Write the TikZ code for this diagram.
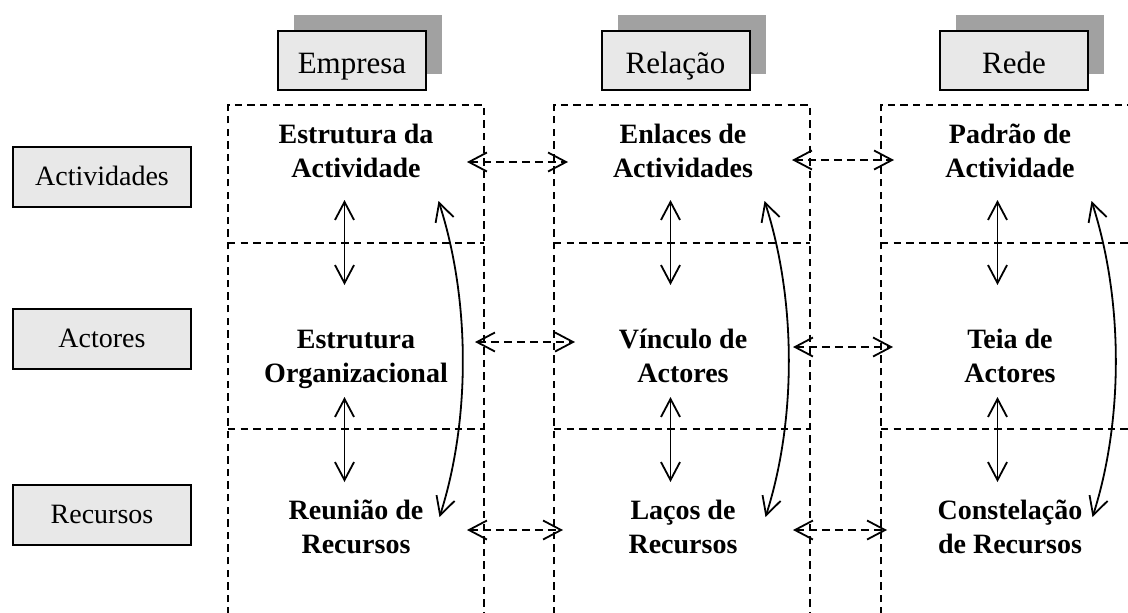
\documentclass[tikz,border=0pt]{standalone}
\usepackage{fontspec}
\setmainfont{Liberation Serif}
\usetikzlibrary{arrows.meta,shadows}

\begin{document}
\begin{tikzpicture}[x=0.5pt,y=-0.5pt,
    cabeca/.style={draw,line width=1pt,fill=black!9,minimum width=74pt,minimum height=29.5pt,inner sep=0pt,
      text height=14pt,text depth=1.5pt,font=\fontsize{15.5}{18}\selectfont,
      drop shadow={shadow xshift=8pt,shadow yshift=8pt,opacity=1,fill=black!37}},
    eixo/.style={draw,line width=1pt,fill=black!9,minimum width=89pt,minimum height=30pt,inner sep=0pt,
      text height=10pt,text depth=2pt,font=\fontsize{14}{17}\selectfont},
    celula/.style={align=center,anchor=base,inner sep=0pt,font=\fontsize{14}{17}\selectfont\bfseries},
    grade/.style={line width=0.9pt,dash pattern=on 3.7pt off 2.6pt},
    liga/.style={line width=0.9pt,{Straight Barb[length=9pt,width=9.5pt]}-{Straight Barb[length=9pt,width=9.5pt]}},
    ligatr/.style={liga,dash pattern=on 4pt off 2.5pt}]
  \path[use as bounding box] (0,0) rectangle (1128,612) ;
  \clip (0,0) rectangle (1128,612) ;
  % grelha tracejada
  \foreach \c/\x in {a/228,b/554,c/881} {
    \draw[grade] (\x,640) -- (\x,105) -- (\x+256,105) -- (\x+256,640) ;
    \draw[grade] (\x,243) -- (\x+256,243) ;
    \draw[grade] (\x,429) -- (\x+256,429) ;
    \coordinate (\c-v1) at (\x+116.5,200) ;
    \coordinate (\c-v2) at (\x+116.5,285) ;
    \coordinate (\c-v3) at (\x+116.5,397) ;
    \coordinate (\c-v4) at (\x+116.5,482) ;
    \coordinate (\c-ct) at (\x+210.5,201) ;
    \coordinate (\c-cb) at (\x+211.5,517) ;
  }
  % cabecalhos
  \node[cabeca] (empresa) at (352,60.5) {Empresa} ;
  \node[cabeca] (relacao) at (675.5,60.5) {Relação} ;
  \node[cabeca] (rede) at (1014,60.5) {Rede} ;
  \node[eixo] (actividades) at (102,177) {Actividades} ;
  \node[eixo] (actores) at (102,339) {Actores} ;
  \node[eixo] (recursos) at (102,515) {Recursos} ;
  % celulas
  \node[celula] (a1) at (356,177) {Estrutura da\\Actividade} ;
  \node[celula] (a2) at (356,382) {Estrutura\\Organizacional} ;
  \node[celula] (a3) at (356,553) {Reunião de\\Recursos} ;
  \node[celula] (b1) at (683,177) {Enlaces de\\Actividades} ;
  \node[celula] (b2) at (683,382) {Vínculo de\\Actores} ;
  \node[celula] (b3) at (683,553) {Laços de\\Recursos} ;
  \node[celula] (c1) at (1010,177) {Padrão de\\Actividade} ;
  \node[celula] (c2) at (1010,382) {Teia de\\Actores} ;
  \node[celula] (c3) at (1010,553) {Constelação\\de Recursos} ;
  % ligacoes verticais
  \foreach \c in {a,b,c} {
    \draw[liga] (\c-v1) -- (\c-v2) ;
    \draw[liga] (\c-v3) -- (\c-v4) ;
    \draw[liga] (\c-ct) .. controls ([xshift=16pt]\c-ct |- 0,300) and ([xshift=16pt]\c-ct |- 0,420) .. (\c-cb) ;
  }
  % ligacoes horizontais
  \coordinate (ab1l) at (467,162) ; \coordinate (ab1r) at (568,162) ;
  \coordinate (ab2l) at (475,342) ; \coordinate (ab2r) at (575,342) ;
  \coordinate (ab3l) at (467,530) ; \coordinate (ab3r) at (563,530) ;
  \coordinate (bc1l) at (792,160) ; \coordinate (bc1r) at (894,160) ;
  \coordinate (bc2l) at (793,347) ; \coordinate (bc2r) at (893,347) ;
  \coordinate (bc3l) at (793,530) ; \coordinate (bc3r) at (887,530) ;
  \foreach \p in {ab,bc} {
    \foreach \r in {1,2,3} {
      \draw[ligatr] (\p\r l) -- (\p\r r) ;
    }
  }
\end{tikzpicture}
\end{document}
